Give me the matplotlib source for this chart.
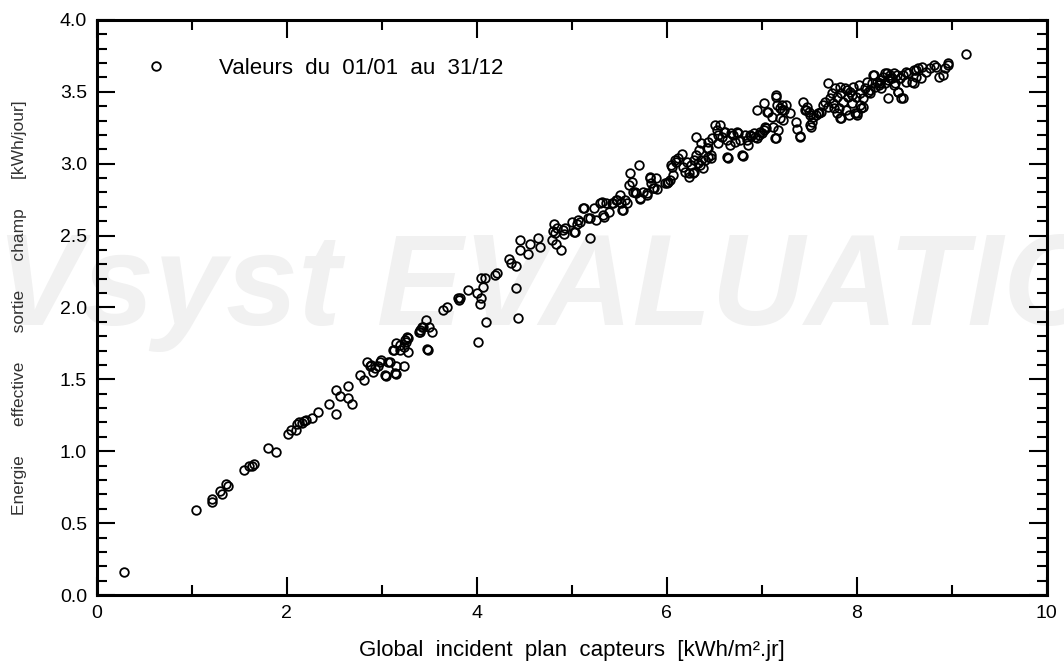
import matplotlib
matplotlib.use("Agg")
import matplotlib.pyplot as plt
from matplotlib.ticker import MultipleLocator, FormatStrFormatter

plt.rcParams['font.family'] = ['Liberation Sans', 'DejaVu Sans']

# Global incident plan capteurs [kWh/m2.jr]  /  Energie effective sortie champ [kWh/jour]
glob_inc = [
    0.29, 1.04, 1.21, 1.21, 1.30, 1.32, 1.36, 1.38, 1.55, 1.60, 1.63, 1.66, 1.80, 1.89,
    2.01, 2.05, 2.10, 2.11, 2.13, 2.16, 2.18, 2.20, 2.27, 2.33, 2.45, 2.52, 2.52, 2.56,
    2.65, 2.65, 2.69, 2.77, 2.81, 2.85, 2.88, 2.91, 2.93, 2.96, 2.99, 3.05, 3.07, 3.15,
    3.15, 3.15, 3.13, 3.19, 3.23, 3.23, 3.26, 3.28, 3.28, 3.40, 3.40, 3.42, 3.47, 3.49,
    3.50, 3.53, 3.65, 3.69,
    2.89, 2.98, 3.04, 3.09, 3.12, 3.14, 3.19, 3.25, 3.27, 3.39, 3.44, 3.48, 3.81,
    3.80, 3.82, 3.91, 4.01, 4.00, 4.03, 4.05, 4.05, 4.07, 4.09, 4.10, 4.19, 4.21, 4.34,
    4.36, 4.41, 4.41, 4.43, 4.46, 4.46, 4.54, 4.56, 4.65, 4.67, 4.79, 4.81, 4.80, 4.82,
    4.83, 4.85, 4.89, 4.91, 4.92, 4.93, 5.00, 5.02, 5.06, 5.09, 5.13, 5.19, 5.19, 5.23,
    5.26, 5.30, 5.32, 5.34, 5.36, 5.39, 5.44, 5.48, 5.51, 5.52, 5.54, 5.56, 5.58, 5.60,
    5.61, 5.63, 5.67, 5.71, 5.72, 5.75, 5.79, 5.82, 5.83, 5.86, 5.89, 5.90, 6.00, 6.03,
    6.06, 6.07, 6.09, 6.12, 6.16, 6.17, 6.19, 6.23, 6.26, 6.28, 6.31, 6.33, 6.36, 6.38,
    6.40, 6.44, 6.47,
    5.03, 5.07, 5.12, 5.17, 5.33, 5.42, 5.47, 5.53, 5.65, 5.68, 5.72, 5.79, 5.82, 5.87,
    5.98, 6.01, 6.05, 6.10, 6.21, 6.24, 6.29,
    6.51, 6.53, 6.54, 6.56, 6.58, 6.61, 6.63, 6.64, 6.65, 6.67, 6.70, 6.72, 6.75, 6.77,
    6.80, 6.82, 6.85, 6.86, 6.89, 6.92, 6.95, 6.97, 7.00, 7.02, 7.05, 6.95, 7.02, 7.06,
    7.11, 7.12, 7.14, 7.15, 7.16, 7.17, 7.19, 7.19, 7.21, 7.22, 7.24, 7.26, 7.30, 7.36,
    7.37, 7.40, 7.44, 7.46, 7.48, 7.50, 7.52, 7.53, 7.54, 7.57, 7.60, 7.62, 7.65, 7.67,
    7.70, 7.70, 7.72, 7.74, 7.75, 7.77, 7.79, 7.81, 7.82, 7.82, 7.84, 7.86, 7.88, 7.89,
    7.91, 7.92, 7.93, 7.95, 7.96, 7.98, 7.99, 8.00, 8.02, 8.03, 8.03, 8.05, 8.07, 8.09,
    8.11, 8.12, 8.14, 8.16, 8.17, 8.19, 8.21, 8.23, 8.25, 8.26, 8.28, 8.30, 8.32, 8.33,
    8.33, 8.35, 8.37, 8.39, 8.40, 8.42, 8.44, 8.46, 8.49, 8.49, 8.52, 8.54, 8.58, 8.60,
    8.62, 8.65, 8.68, 8.69, 8.73, 8.77, 8.81, 8.83, 8.87, 8.91, 8.93, 8.96, 8.96, 9.15,
    6.31, 6.36, 6.34, 6.44, 6.43, 6.48,
    6.29, 6.35, 6.42, 6.47, 6.54, 6.60, 6.68, 6.74, 6.79, 6.88, 6.93, 6.98, 7.03, 7.07,
    7.15, 7.15, 7.21, 7.40, 7.47,
    7.51, 7.51, 7.59, 7.76, 7.79, 7.83, 7.90, 7.95, 8.00, 8.07, 8.14, 8.18, 8.25, 8.30,
    8.35, 8.39, 8.43, 8.47, 8.52, 8.60, 8.62,
]
e_array = [
    0.160, 0.590, 0.667, 0.645, 0.726, 0.700, 0.774, 0.758, 0.867, 0.897, 0.900, 0.913, 1.025, 0.995,
    1.118, 1.148, 1.146, 1.190, 1.206, 1.195, 1.213, 1.220, 1.230, 1.275, 1.329, 1.260, 1.426, 1.384,
    1.454, 1.368, 1.326, 1.530, 1.496, 1.623, 1.593, 1.553, 1.577, 1.593, 1.635, 1.524, 1.623, 1.751,
    1.593, 1.540, 1.704, 1.704, 1.593, 1.727, 1.762, 1.786, 1.688, 1.843, 1.827, 1.866, 1.913, 1.704,
    1.866, 1.827, 1.980, 2.006,
    1.600, 1.623, 1.530, 1.623, 1.704, 1.542, 1.739, 1.774, 1.797, 1.832, 1.866, 1.709, 2.050,
    2.068, 2.068, 2.120, 1.758, 2.103, 2.024, 2.064, 2.205, 2.140, 2.205, 1.899, 2.226, 2.238, 2.335,
    2.307, 2.289, 2.138, 1.929, 2.470, 2.400, 2.372, 2.442, 2.481, 2.423, 2.470, 2.581, 2.532, 2.516,
    2.440, 2.551, 2.400, 2.539, 2.511, 2.555, 2.597, 2.527, 2.581, 2.597, 2.694, 2.621, 2.481, 2.690,
    2.609, 2.725, 2.736, 2.632, 2.725, 2.667, 2.725, 2.748, 2.783, 2.725, 2.678, 2.748, 2.725, 2.852,
    2.938, 2.875, 2.806, 2.991, 2.760, 2.806, 2.783, 2.899, 2.864, 2.829, 2.899, 2.822, 2.864, 2.887,
    2.980, 2.922, 3.026, 3.038, 3.068, 2.980, 2.945, 2.906, 2.991, 2.933, 3.061, 3.003, 3.026, 2.968,
    3.026, 3.049, 3.038,
    2.527, 2.609, 2.690, 2.621, 2.643, 2.725, 2.748, 2.678, 2.806, 2.794, 2.753, 2.794, 2.910, 2.829,
    2.864, 2.875, 2.991, 3.014, 3.014, 2.933, 2.945,
    3.270, 3.235, 3.200, 3.270, 3.188, 3.223, 3.165, 3.049, 3.038, 3.130, 3.200, 3.154, 3.212, 3.165,
    3.054, 3.200, 3.165, 3.130, 3.193, 3.212, 3.177, 3.200, 3.212, 3.235, 3.247, 3.374, 3.420, 3.362,
    3.327, 3.258, 3.177, 3.478, 3.409, 3.235, 3.386, 3.316, 3.409, 3.304, 3.374, 3.409, 3.351, 3.293,
    3.240, 3.193, 3.432, 3.374, 3.393, 3.362, 3.258, 3.293, 3.327, 3.339, 3.351, 3.362, 3.409, 3.432,
    3.560, 3.397, 3.455, 3.490, 3.420, 3.525, 3.467, 3.386, 3.316, 3.536, 3.490, 3.432, 3.525, 3.374,
    3.467, 3.339, 3.501, 3.420, 3.536, 3.351, 3.467, 3.339, 3.548, 3.409, 3.490, 3.386, 3.455, 3.525,
    3.571, 3.501, 3.513, 3.560, 3.617, 3.536, 3.571, 3.548, 3.583, 3.525, 3.606, 3.560, 3.629, 3.455,
    3.583, 3.617, 3.594, 3.629, 3.560, 3.617, 3.501, 3.594, 3.455, 3.617, 3.571, 3.629, 3.571, 3.652,
    3.606, 3.664, 3.594, 3.676, 3.641, 3.664, 3.687, 3.676, 3.606, 3.617, 3.664, 3.687, 3.703, 3.763,
    3.184, 3.142, 3.096, 3.107, 3.154, 3.177,
    3.026, 2.991, 3.107, 3.061, 3.142, 3.223, 3.212, 3.223, 3.061, 3.200, 3.188, 3.223, 3.258, 3.362,
    3.467, 3.177, 3.374, 3.188, 3.374,
    3.339, 3.270, 3.351, 3.386, 3.351, 3.316, 3.513, 3.478, 3.351, 3.397, 3.490, 3.617, 3.560, 3.629,
    3.594, 3.548, 3.501, 3.455, 3.641, 3.560, 3.652,
]

legend_label = "Valeurs  du  01/01  au  31/12"
x_title = "Global  incident  plan  capteurs  [kWh/m².jr]"
y_title = "      ".join(["Energie", "effective", "sortie", "champ", "[kWh/jour]"])

fig = plt.figure(figsize=(10.64, 6.66), dpi=100)
ax = fig.add_axes([0.0909, 0.1066, 0.8928, 0.8634])

# filigrane
ax.text(0.52, 0.562, "PVsyst EVALUATION", transform=fig.transFigure, ha='center', va='center',
        fontsize=93, fontweight='bold', fontstyle='italic', color='#f1f1f1', zorder=0, clip_on=False)

ax.plot(glob_inc, e_array, linestyle='none', marker='o', markersize=6.2,
        markerfacecolor='none', markeredgecolor='black', markeredgewidth=1.3,
        label=legend_label, zorder=3)

ax.set_xlim(0, 10)
ax.set_ylim(0, 4)
ax.xaxis.set_major_locator(MultipleLocator(2))
ax.xaxis.set_minor_locator(MultipleLocator(1))
ax.yaxis.set_major_locator(MultipleLocator(0.5))
ax.yaxis.set_minor_locator(MultipleLocator(0.1))
ax.yaxis.set_major_formatter(FormatStrFormatter('%.1f'))

ax.tick_params(which='both', direction='in', top=True, right=True, width=1.5,
               labelsize=14, colors='black')
ax.tick_params(which='major', length=13, pad=7)
ax.tick_params(which='minor', length=7)
for s in ax.spines.values():
    s.set_linewidth(2.2)

ax.set_xlabel(x_title, fontsize=16)
ax.xaxis.set_label_coords(0.5, -0.078)
ax.set_ylabel(y_title, fontsize=12.5, color='#333333')
ax.yaxis.set_label_coords(-0.073, 0.5)

ax.legend(loc='upper left', bbox_to_anchor=(0.0385, 0.934), frameon=False, fontsize=16,
          borderaxespad=0, borderpad=0, handlelength=2, handletextpad=1.85)

fig.savefig("out.png", dpi=100)
